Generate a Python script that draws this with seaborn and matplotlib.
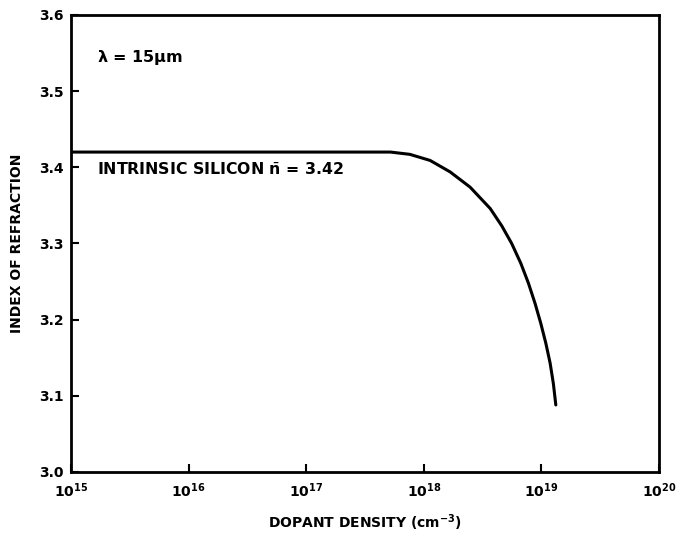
import numpy as np
import pandas as pd
import matplotlib
matplotlib.use("Agg")
import matplotlib.pyplot as plt
import seaborn as sns

# Refractive index of silicon vs. dopant density at 15 um
dopant_density = [1e15, 1e16, 1e17, 3.0e17, 5.2e17, 7.6e17, 1.13e18, 1.67e18,
                  2.47e18, 3.66e18, 4.6e18, 5.58e18, 6.67e18, 7.74e18,
                  8.83e18, 9.87e18, 1.089e19, 1.184e19, 1.262e19, 1.324e19]
refr_index = [3.42, 3.42, 3.42, 3.42, 3.42, 3.417, 3.409, 3.394,
              3.374, 3.346, 3.323, 3.300, 3.274, 3.248,
              3.221, 3.195, 3.169, 3.143, 3.116, 3.088]

x_ticks = [1e15, 1e16, 1e17, 1e18, 1e19, 1e20]
x_ticklabels = [r"$\mathbf{10^{15}}$", r"$\mathbf{10^{16}}$", r"$\mathbf{10^{17}}$",
                r"$\mathbf{10^{18}}$", r"$\mathbf{10^{19}}$", r"$\mathbf{10^{20}}$"]
y_ticks = [3.0, 3.1, 3.2, 3.3, 3.4, 3.5, 3.6]
y_ticklabels = ["3.0", "3.1", "3.2", "3.3", "3.4", "3.5", "3.6"]

sns.set_style("ticks")
plt.rcParams["font.family"] = ["DejaVu Sans"]
plt.rcParams["mathtext.fontset"] = "dejavusans"
plt.rcParams["text.color"] = "black"
plt.rcParams["axes.labelcolor"] = "black"

df = pd.DataFrame({"density": dopant_density, "n": refr_index})

fig = plt.figure(figsize=(6.83, 5.38), dpi=100)
ax = fig.add_axes([0.104, 0.1227, 0.861, 0.8495])

sns.lineplot(data=df, x="density", y="n", ax=ax, color="black", lw=2.2,
             sort=False, estimator=None)

ax.set_xscale("log")
ax.set_xlim(1e15, 1e20)
ax.set_ylim(3.0, 3.6)
ax.set_xticks(x_ticks)
ax.set_xticklabels(x_ticklabels, fontsize=10)
ax.minorticks_off()
ax.set_yticks(y_ticks)
ax.set_yticklabels(y_ticklabels, fontsize=10, fontweight="bold")
ax.tick_params(axis="both", direction="in", length=6, width=1.5, colors="black")
ax.tick_params(axis="x", pad=7)
ax.tick_params(axis="y", pad=5)

for s in ax.spines.values():
    s.set_linewidth(2.0)
    s.set_color("black")

ax.set_xlabel(r"DOPANT DENSITY (cm$^{\mathbf{-3}}$)", fontsize=10, fontweight="bold", labelpad=9)
ax.set_ylabel("INDEX OF REFRACTION", fontsize=10, fontweight="bold", labelpad=11)

ax.text(0.045, 0.908, r"$\mathbf{\lambda}$ = 15$\mathbf{\mu}$m", transform=ax.transAxes,
        fontsize=11.5, fontweight="bold", va="center", ha="left")
ax.text(0.045, 0.661, r"INTRINSIC SILICON $\bar{\mathbf{n}}$ = 3.42", transform=ax.transAxes,
        fontsize=11.3, fontweight="bold", va="center", ha="left")

fig.savefig("out.png", dpi=100)
